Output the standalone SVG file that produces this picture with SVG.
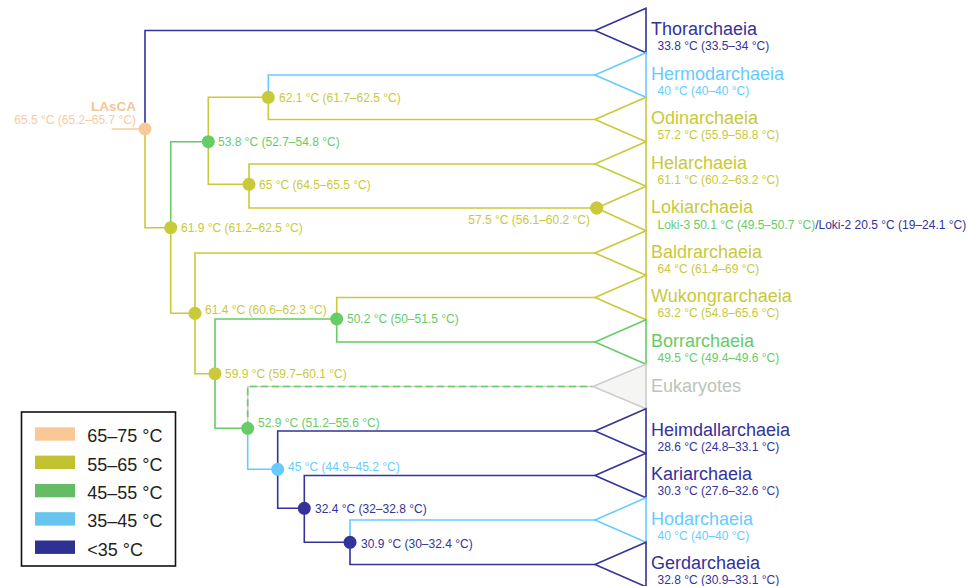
<svg xmlns="http://www.w3.org/2000/svg" width="972" height="586" viewBox="0 0 972 586">
<style>
text{font-family:"Liberation Sans",Arial,sans-serif}
.ln{fill:none;stroke-width:1.6}
.tri{stroke-width:1.6;fill:#ffffff;stroke-linejoin:miter}
.nm{font-size:18px}
.sb{font-size:12px}
.lb{font-size:12px}
.nv{stroke:#333399}.nvf{fill:#333399}
.yl{stroke:#c9c93a}.ylf{fill:#c9c93a}
.gr{stroke:#66cc66}.grf{fill:#66cc66}
.lbl{stroke:#66ccff}.lblf{fill:#66ccff}
.lg{font-size:18px;fill:#231f20}
</style>
<rect width="972" height="586" fill="#ffffff"/>
<g id="connectors">
<path class="ln nv" d="M145,129 V30.5 H595"/>
<path class="ln yl" d="M145,129 V227.7 H170.7"/>
<path class="ln" stroke="#f9c99a" d="M111.7,129 H145"/>
<path class="ln gr" d="M170.7,227.7 V141.7 H208.3"/>
<path class="ln yl" d="M170.7,227.7 V313.3 H195"/>
<path class="ln yl" d="M208.3,141.7 V97.3 H268.3"/>
<path class="ln yl" d="M208.3,141.7 V184.3 H249"/>
<path class="ln lbl" d="M268.3,97.3 V75 H595"/>
<path class="ln yl" d="M268.3,97.3 V119.5 H595"/>
<path class="ln yl" d="M249,184.3 V164 H595"/>
<path class="ln yl" d="M249,184.3 V208 H596.7"/>
<path class="ln yl" d="M195,313.3 V253 H595"/>
<path class="ln yl" d="M195,313.3 V373.7 H215"/>
<path class="ln gr" d="M215,373.7 V319 H336.7"/>
<path class="ln gr" d="M215,373.7 V428.3 H247.7"/>
<path class="ln yl" d="M336.7,319 V297.5 H595"/>
<path class="ln gr" d="M336.7,319 V342 H595"/>
<path class="ln" stroke="#d0d0d0" d="M247.7,428.3 V386.5 H593"/>
<path class="ln gr" stroke-dasharray="7 4" d="M247.7,428.3 V386.5 H593"/>
<path class="ln lbl" d="M247.7,428.3 V469.3 H277.7"/>
<path class="ln nv" d="M277.7,469.3 V431 H595"/>
<path class="ln nv" d="M277.7,469.3 V508.3 H304.3"/>
<path class="ln nv" d="M304.3,508.3 V475.5 H595"/>
<path class="ln nv" d="M304.3,508.3 V542.3 H350"/>
<path class="ln lbl" d="M350,542.3 V520 H595"/>
<path class="ln nv" d="M350,542.3 V564.5 H595"/>
</g>
<g id="node-LAsCA">
<circle cx="145" cy="129" r="6.5" fill="#f9c99a"/>
<text x="136" y="110.7" text-anchor="end" font-size="13.5" font-weight="bold" fill="#f5c596">LAsCA</text>
<text x="136" y="124" text-anchor="end" class="lb" fill="#f8cca0">65.5 °C (65.2–65.7 °C)</text>
</g>
<g id="node-61-9"><circle cx="170.7" cy="227.7" r="6.5" class="ylf"/><text x="181" y="231.7" class="lb ylf">61.9 °C (61.2–62.5 °C)</text></g>
<g id="node-53-8"><circle cx="208.3" cy="141.7" r="6.5" class="grf"/><text x="218" y="146" class="lb grf">53.8 °C (52.7–54.8 °C)</text></g>
<g id="node-62-1"><circle cx="268.3" cy="97.3" r="6.5" class="ylf"/><text x="279" y="101.5" class="lb ylf">62.1 °C (61.7–62.5 °C)</text></g>
<g id="node-65"><circle cx="249" cy="184.3" r="6.5" class="ylf"/><text x="259" y="188.7" class="lb ylf">65 °C (64.5–65.5 °C)</text></g>
<g id="node-57-5"><circle cx="596.7" cy="208" r="6.5" class="ylf"/><text x="590" y="224" text-anchor="end" class="lb ylf">57.5 °C (56.1–60.2 °C)</text></g>
<g id="node-61-4"><circle cx="195" cy="313.3" r="6.5" class="ylf"/><text x="205" y="313.5" class="lb ylf">61.4 °C (60.6–62.3 °C)</text></g>
<g id="node-50-2"><circle cx="336.7" cy="319" r="6.5" class="grf"/><text x="347" y="323.3" class="lb grf">50.2 °C (50–51.5 °C)</text></g>
<g id="node-59-9"><circle cx="215" cy="373.7" r="6.5" class="ylf"/><text x="225" y="378.3" class="lb ylf">59.9 °C (59.7–60.1 °C)</text></g>
<g id="node-52-9"><circle cx="247.7" cy="428.3" r="6.5" class="grf"/><text x="258" y="426.7" class="lb grf">52.9 °C (51.2–55.6 °C)</text></g>
<g id="node-45"><circle cx="277.7" cy="469.3" r="6.5" class="lblf"/><text x="288" y="471" class="lb lblf">45 °C (44.9–45.2 °C)</text></g>
<g id="node-32-4"><circle cx="304.3" cy="508.3" r="6.5" class="nvf"/><text x="315" y="513" class="lb nvf">32.4 °C (32–32.8 °C)</text></g>
<g id="node-30-9"><circle cx="350" cy="542.3" r="6.5" class="nvf"/><text x="361" y="547.5" class="lb nvf">30.9 °C (30–32.4 °C)</text></g>

<g id="clade-Thorarchaeia"><polygon class="tri nv" points="595,30.5 646,8.25 646,52.75"/><text x="651" y="35" class="nm nvf">Thorarchaeia</text><text x="657.5" y="50" class="sb nvf">33.8 °C (33.5–34 °C)</text></g>
<g id="clade-Hermodarchaeia"><polygon class="tri lbl" points="595,75 646,52.75 646,97.25"/><text x="651" y="79.5" class="nm lblf">Hermodarchaeia</text><text x="657.5" y="94.5" class="sb lblf">40 °C (40–40 °C)</text></g>
<g id="clade-Odinarchaeia"><polygon class="tri yl" points="595,119.5 646,97.25 646,141.75"/><text x="651" y="124" class="nm ylf">Odinarchaeia</text><text x="657.5" y="139" class="sb ylf">57.2 °C (55.9–58.8 °C)</text></g>
<g id="clade-Helarchaeia"><polygon class="tri yl" points="595,164 646,141.75 646,186.25"/><text x="651" y="168.5" class="nm ylf">Helarchaeia</text><text x="657.5" y="183.5" class="sb ylf">61.1 °C (60.2–63.2 °C)</text></g>
<g id="clade-Lokiarchaeia"><path class="ln yl" d="M596.7,208 L646,186.25 V230.75 Z"/><circle cx="596.7" cy="208" r="6.5" class="ylf"/><text x="651" y="212.5" class="nm ylf">Lokiarchaeia</text><text x="657.5" y="228.5" class="sb"><tspan class="grf">Loki-3 50.1 °C (49.5–50.7 °C)</tspan><tspan class="nvf">/Loki-2 20.5 °C (19–24.1 °C)</tspan></text></g>
<g id="clade-Baldrarchaeia"><polygon class="tri yl" points="595,253 646,230.75 646,275.25"/><text x="651" y="257.5" class="nm ylf">Baldrarchaeia</text><text x="657.5" y="272.5" class="sb ylf">64 °C (61.4–69 °C)</text></g>
<g id="clade-Wukongrarchaeia"><polygon class="tri yl" points="595,297.5 646,275.25 646,319.75"/><text x="651" y="302" class="nm ylf">Wukongrarchaeia</text><text x="657.5" y="317" class="sb ylf">63.2 °C (54.8–65.6 °C)</text></g>
<g id="clade-Borrarchaeia"><polygon class="tri gr" points="595,342 646,319.75 646,364.25"/><text x="651" y="346.5" class="nm grf">Borrarchaeia</text><text x="657.5" y="361.5" class="sb grf">49.5 °C (49.4–49.6 °C)</text></g>
<g id="clade-Eukaryotes"><polygon points="593,386.5 646,364.25 646,408.75" fill="#f5f6f3" stroke="#cdcdcd" stroke-width="1.6"/><text x="651" y="391.5" class="nm" fill="#b9c6b9">Eukaryotes</text></g>
<g id="clade-Heimdallarchaeia"><polygon class="tri nv" points="595,431 646,408.75 646,453.25"/><text x="651" y="435.5" class="nm nvf">Heimdallarchaeia</text><text x="657.5" y="450.5" class="sb nvf">28.6 °C (24.8–33.1 °C)</text></g>
<g id="clade-Kariarchaeia"><polygon class="tri nv" points="595,475.5 646,453.25 646,497.75"/><text x="651" y="480" class="nm nvf">Kariarchaeia</text><text x="657.5" y="495" class="sb nvf">30.3 °C (27.6–32.6 °C)</text></g>
<g id="clade-Hodarchaeia"><polygon class="tri lbl" points="595,520 646,497.75 646,542.25"/><text x="651" y="524.5" class="nm lblf">Hodarchaeia</text><text x="657.5" y="539.5" class="sb lblf">40 °C (40–40 °C)</text></g>
<g id="clade-Gerdarchaeia"><polygon class="tri nv" points="595,564.5 646,542.25 646,586.75"/><text x="651" y="569" class="nm nvf">Gerdarchaeia</text><text x="657.5" y="584" class="sb nvf">32.8 °C (30.9–33.1 °C)</text></g>

<g id="legend">
<rect x="21.5" y="412" width="154" height="154" fill="#ffffff" stroke="#111111" stroke-width="1.6"/>
<rect x="35" y="427.3" width="40" height="13.4" fill="#f9c896"/>
<text x="87.3" y="442.3" class="lg">65–75 °C</text>
<rect x="35" y="455.6" width="40" height="13.4" fill="#c2c230"/>
<text x="87.3" y="470.6" class="lg">55–65 °C</text>
<rect x="35" y="483.9" width="40" height="13.4" fill="#66bb66"/>
<text x="87.3" y="498.9" class="lg">45–55 °C</text>
<rect x="35" y="512.2" width="40" height="13.4" fill="#66c4ef"/>
<text x="87.3" y="527.2" class="lg">35–45 °C</text>
<rect x="35" y="540.5" width="40" height="13.4" fill="#2e3192"/>
<text x="87.3" y="555.5" class="lg">&lt;35 °C</text>
</g>
</svg>
